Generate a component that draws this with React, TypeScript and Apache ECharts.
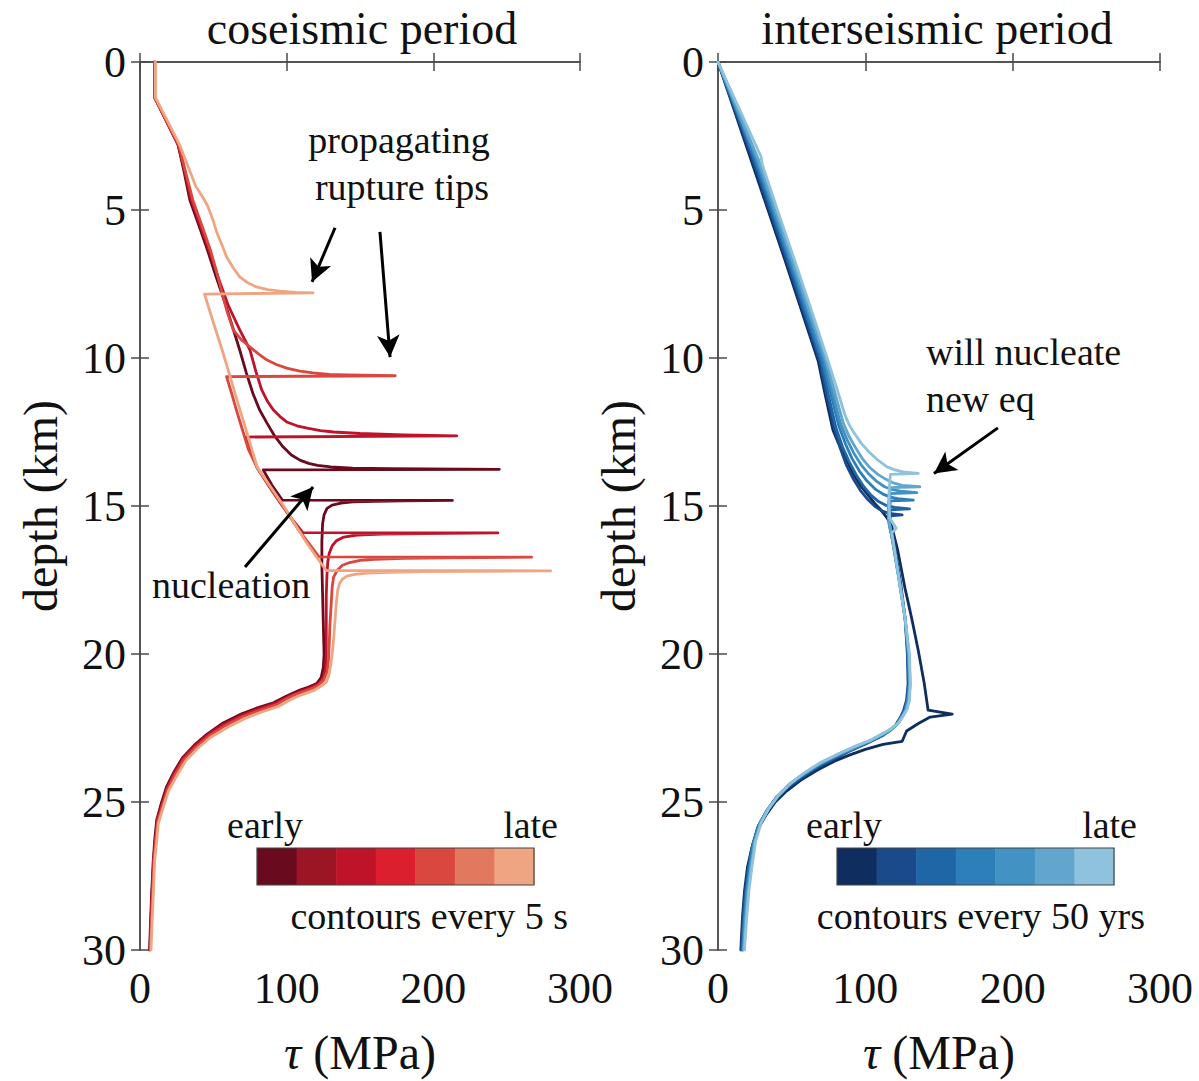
import React, { useEffect, useRef } from "react";
import * as echarts from "echarts";

// Axis ticks
const tauTicks = [0, 100, 200, 300];
const depthTicks = [0, 5, 10, 15, 20, 25, 30];

// Colour scales used for snapshots (early -> late)
const redScale = ["#6a0a1f", "#9c1524", "#be1329", "#dc1f2e", "#d9473f", "#e2785e", "#f0a582"];
const blueScale = ["#0f2d5e", "#1a4a8a", "#1f66a6", "#2c7fb8", "#4293c4", "#62a6cd", "#8fc2dc"];

// Coseismic shear-stress snapshots: [tau (MPa), depth (km)]
const coseismic0 = [
  [10, 0], [10, 1.2], [18, 2.0], [26, 2.8], [30, 3.7], [34, 4.66], [40, 5.5], [46, 6.35], [51.5, 7.2],
  [57, 8.0], [62.5, 8.85], [68, 9.73], [72.5, 10.5], [77, 11.2], [81.5, 11.75], [86.6, 12.2], [92, 12.65],
  [97.5, 13.0], [103, 13.27], [109, 13.45], [115, 13.56], [121, 13.63], [130, 13.68], [145, 13.72],
  [170, 13.74], [245, 13.76], [84, 13.78], [90, 14.3], [97, 14.8], [213, 14.81], [180, 14.83],
  [160, 14.84], [145, 14.86], [137, 14.9], [131, 14.97], [127.5, 15.08], [125.5, 15.3], [124.5, 15.6],
  [124, 16.2], [124, 17], [124.5, 18], [125, 19], [125.5, 20.0], [125, 20.45], [123.5, 20.8],
  [120.5, 21.0], [115, 21.12], [109, 21.22], [100, 21.42], [91, 21.65], [80, 21.82], [68, 22.05],
  [56, 22.35], [46, 22.7], [37, 23.08], [29, 23.5], [23, 24.0], [18, 24.5], [14.5, 25.05],
  [11.4, 25.6], [10, 26.3], [9, 27], [8, 28], [7.2, 29], [6.5, 30],
];
const coseismic2 = [
  [10, 0], [10, 1.2], [18, 2.0], [26, 2.8], [30.5, 3.7], [35, 4.66], [41, 5.5], [47, 6.35], [53.5, 7.3],
  [60, 8.2], [67.5, 9.0], [75, 9.73], [79, 10.45], [83, 11.08], [87, 11.47], [91, 11.76], [95.5, 11.98],
  [100, 12.16], [107, 12.29], [114, 12.37], [123, 12.45], [132, 12.5], [150, 12.55], [180, 12.6],
  [216, 12.63], [72, 12.67], [76, 13.2], [80, 13.72], [87.5, 14.3], [95, 14.85], [103, 15.4],
  [111, 15.9], [244, 15.91], [195, 15.93], [165, 15.95], [148, 15.98], [139, 16.05], [134, 16.17],
  [131, 16.35], [129, 16.6], [128, 16.9], [127.5, 17.3], [127, 18], [127, 19], [127, 20.0],
  [126.5, 20.45], [125, 20.8], [121.5, 21.02], [116, 21.14], [110, 21.25], [101, 21.44], [92, 21.67],
  [81, 21.85], [69, 22.08], [57, 22.38], [46.5, 22.72], [37.5, 23.1], [29.5, 23.52], [23.5, 24.02],
  [18.5, 24.52], [15, 25.07], [11.8, 25.62], [10.4, 26.3], [9.3, 27], [8.3, 28], [7.5, 29], [6.8, 30],
];
const coseismic4 = [
  [10, 0], [10, 1.2], [18.2, 2.0], [26.5, 2.8], [31, 3.7], [36, 4.66], [42, 5.5], [48, 6.35], [52, 7.05],
  [56, 7.8], [59.5, 8.45], [63.6, 9.05], [69, 9.38], [75, 9.63], [81, 9.87], [86.6, 10.07], [93, 10.22],
  [100, 10.34], [109, 10.44], [118, 10.5], [129, 10.55], [141, 10.57], [174, 10.6], [59, 10.63],
  [62.5, 11.2], [66, 11.8], [70, 12.45], [74, 13.1], [80, 13.72], [87, 14.23], [94, 14.75],
  [101, 15.27], [108, 15.8], [115, 16.25], [122, 16.72], [267, 16.73], [210, 16.75], [180, 16.77],
  [160, 16.8], [150, 16.84], [143, 16.91], [138, 17.0], [134.5, 17.17], [132, 17.4], [131, 17.75],
  [130.5, 18.2], [129.5, 19.0], [129, 19.7], [128.5, 20.2], [127.5, 20.6], [125, 20.9], [121, 21.07],
  [117, 21.17], [111.5, 21.27], [106, 21.37], [99.5, 21.52], [93, 21.71], [81.5, 21.9], [70, 22.12],
  [58, 22.42], [47, 22.77], [38, 23.15], [30, 23.57], [24, 24.07], [19, 24.57], [15.5, 25.1],
  [12, 25.67], [10.7, 26.35], [9.5, 27], [8.6, 28], [7.8, 29], [7, 30],
];
const coseismic6 = [
  [10.5, 0], [10.5, 1.2], [18.8, 2.0], [27, 2.8], [32.5, 3.5], [38, 4.2], [42, 4.5], [46, 4.85],
  [49.5, 5.3], [52.5, 5.78], [56, 6.2], [59, 6.58], [63.5, 6.95], [68, 7.26], [73.5, 7.46], [79.5, 7.6],
  [87, 7.69], [95.5, 7.74], [106, 7.78], [118, 7.8], [44, 7.84], [50, 8.8], [56, 9.73], [61, 10.55],
  [66, 11.4], [73, 12.55], [80, 13.7], [89, 14.35], [98, 15.0], [105.5, 15.6], [113, 16.2], [120, 16.7],
  [127, 17.18], [280, 17.19], [230, 17.21], [195, 17.22], [170, 17.24], [155, 17.27], [146.5, 17.31],
  [141, 17.37], [138, 17.47], [136, 17.62], [134.8, 17.85], [134, 18.2], [133.4, 18.55], [133, 18.85],
  [132, 19.5], [131, 20.0], [130, 20.4], [128.8, 20.72], [127, 20.95], [123, 21.1], [119, 21.22],
  [113.5, 21.32], [108, 21.42], [101.5, 21.57], [95, 21.76], [83.5, 21.95], [72, 22.17], [60, 22.47],
  [48, 22.82], [39, 23.2], [31, 23.62], [25, 24.12], [19.5, 24.62], [16, 25.15], [12.5, 25.72],
  [11.2, 26.4], [10, 27], [9.2, 28], [8.3, 29], [7.5, 30],
];

// Interseismic shear-stress snapshots: [tau (MPa), depth (km)]
const interseismic0 = [
  [0, 0], [22.4, 3.3], [45.5, 6.7], [68, 10.1], [73, 11.3], [78, 12.43], [81.5, 12.85], [85, 13.2],
  [88.5, 13.57], [91.6, 13.9], [97, 14.33], [103, 14.7], [106.5, 14.92], [110, 15.1], [114.7, 15.4],
  [118, 15.7], [120, 16.1], [122, 16.5], [124.5, 17.15], [127, 17.8], [129.5, 18.35], [131.7, 18.85],
  [136, 19.9], [140, 21.0], [142.6, 21.9], [159, 22.03], [144, 22.13], [136, 22.35], [128, 22.6],
  [125, 22.95], [112, 23.05], [100, 23.22], [90, 23.4], [79, 23.62], [67.5, 23.92], [56, 24.27],
  [46.5, 24.63], [38.5, 25.02], [32.5, 25.45], [27, 25.92], [23, 26.55], [20, 27.2], [18, 28.0],
  [16.6, 28.9], [15.5, 30],
];
const interseismic1 = [
  [0, 0], [23.5, 3.3], [46.5, 6.7], [69, 10.1], [74, 11.3], [79, 12.4], [83, 13.05], [87, 13.6],
  [92, 14.1], [97, 14.5], [102, 14.8], [107, 15.03], [111.5, 15.17], [116, 15.25], [125, 15.3],
  [117, 15.33], [116.5, 15.55], [117, 15.8], [120, 16.4], [124, 17.6], [127, 18.8], [128.5, 20.0],
  [129, 21.0], [128, 21.55], [126, 21.9], [124, 22.12], [120.5, 22.4], [116, 22.6], [111.5, 22.75],
  [106, 22.9], [100.5, 23.03], [89.5, 23.28], [79, 23.55], [67, 23.85], [56, 24.2], [46.5, 24.55],
  [38.7, 24.95], [32.3, 25.4], [27, 25.85], [23.2, 26.5], [20.6, 27.2], [18.5, 28.0], [17, 28.9],
  [15.9, 30],
];
const interseismic2 = [
  [0, 0], [24.5, 3.3], [47.5, 6.7], [70, 10.1], [75, 11.25], [80, 12.35], [84.5, 13.0], [89, 13.5],
  [94, 13.97], [99, 14.35], [104, 14.64], [109, 14.85], [114.5, 14.99], [120, 15.05], [130, 15.1],
  [117, 15.13], [116.5, 15.5], [117.5, 15.9], [119, 16.3], [123.5, 17.6], [127, 18.8], [129, 20.0],
  [129.5, 21.0], [128.5, 21.55], [126.5, 21.9], [124.5, 22.12], [121, 22.4], [116.5, 22.6], [112, 22.75],
  [106.5, 22.88], [101, 23.0], [90, 23.25], [79.5, 23.5], [67.5, 23.8], [56.5, 24.15], [47, 24.5],
  [39, 24.9], [32.5, 25.35], [27.5, 25.8], [23.5, 26.45], [21, 27.2], [19, 28.0], [17.6, 28.9],
  [16.4, 30],
];
const interseismic3 = [
  [0, 0], [25.5, 3.3], [48.5, 6.7], [71, 10.1], [76.5, 11.2], [82, 12.3], [86.5, 12.9], [91, 13.4],
  [96, 13.82], [101, 14.15], [106.5, 14.42], [112, 14.6], [117, 14.7], [122, 14.75], [132.6, 14.8],
  [117, 14.83], [116, 15.3], [116.5, 15.7], [118.5, 16.1], [123, 17.5], [127, 18.8], [129, 20.0],
  [130, 21.0], [129, 21.55], [127, 21.9], [125, 22.1], [121.5, 22.38], [117, 22.57], [113, 22.7],
  [107.5, 22.84], [102, 22.97], [91, 23.22], [80, 23.45], [68, 23.75], [57, 24.1], [47.5, 24.45],
  [39.5, 24.85], [33, 25.3], [28, 25.75], [24, 26.4], [21.5, 27.2], [19.5, 28.0], [18, 28.9],
  [16.8, 30],
];
const interseismic4 = [
  [0, 0], [26.5, 3.3], [49.5, 6.7], [72.5, 10.1], [78, 11.2], [83, 12.2], [87.5, 12.75], [92, 13.2],
  [97, 13.6], [102, 13.9], [107.5, 14.16], [113, 14.35], [118.5, 14.45], [124, 14.5], [135, 14.55],
  [117, 14.58], [115.5, 15.2], [116, 15.6], [118, 16.0], [123, 17.5], [127, 18.8], [129.5, 20.0],
  [130, 21.0], [129, 21.55], [127.5, 21.88], [125.5, 22.05], [122, 22.35], [118, 22.53], [114, 22.65],
  [108.5, 22.8], [103, 22.93], [91.5, 23.18], [80.5, 23.42], [68.5, 23.72], [57.5, 24.07], [48, 24.42],
  [40, 24.82], [33.5, 25.27], [28.5, 25.72], [24.5, 26.38], [22, 27.2], [20, 28.0], [18.5, 28.9],
  [17.2, 30],
];
const interseismic5 = [
  [0, 0], [27.5, 3.3], [50.5, 6.7], [73.5, 10.1], [79.5, 11.2], [85, 12.2], [89, 12.65], [93, 13.0],
  [98, 13.4], [103, 13.7], [108.5, 13.93], [114, 14.1], [119.5, 14.23], [125, 14.3], [137, 14.35],
  [117, 14.38], [115.5, 15.0], [116, 15.5], [117.5, 15.9], [122.5, 17.4], [127, 18.8], [129.5, 20.0],
  [130.5, 21.0], [129.5, 21.55], [128, 21.87], [126, 22.05], [122.5, 22.33], [118.5, 22.5],
  [114.5, 22.62], [109, 22.77], [103.5, 22.92], [92, 23.15], [81, 23.4], [69, 23.7], [58, 24.05],
  [48.5, 24.4], [40.5, 24.8], [34, 25.25], [29, 25.7], [25, 26.35], [22.5, 27.2], [20.5, 28.0],
  [19, 28.9], [17.6, 30],
];
const interseismic6 = [
  [0, 0], [29.2, 3.2], [30, 3.45], [41, 5.1], [52, 6.7], [63.5, 8.4], [74.7, 10.1], [80.5, 11.0],
  [86, 11.9], [89, 12.25], [92, 12.5], [97.5, 12.9], [103, 13.2], [109, 13.47], [114.7, 13.68],
  [120, 13.78], [125.6, 13.85], [136, 13.9], [117, 13.93], [116, 14.6], [116.5, 15.4], [121, 15.75],
  [118, 15.9], [120.5, 16.7], [123, 17.5], [127, 18.8], [130, 20.0], [130.5, 21.0], [130, 21.55],
  [128.5, 21.85], [126.5, 22.03], [123, 22.3], [119, 22.47], [115, 22.6], [109.5, 22.75], [104, 22.9],
  [92.5, 23.13], [81.5, 23.38], [69.5, 23.67], [58.5, 24.02], [49, 24.38], [41, 24.78], [34.5, 25.22],
  [29.5, 25.68], [25.5, 26.33], [23, 27.2], [21, 28.0], [19.5, 28.9], [18, 30],
];

const coseismicSnapshots = [
  { shade: 0, data: coseismic0 },
  { shade: 2, data: coseismic2 },
  { shade: 4, data: coseismic4 },
  { shade: 6, data: coseismic6 },
];
const interseismicSnapshots = [
  interseismic0, interseismic1, interseismic2, interseismic3, interseismic4, interseismic5, interseismic6,
];

// Annotation arrows in data units: [from, to]
const coseismicArrows = [
  [[133, 5.6], [117.3, 7.43]],
  [[163.6, 5.74], [170.5, 9.97]],
  [[71.6, 17.06], [118, 14.36]],
];
const interseismicArrows = [[[190, 12.36], [146.6, 13.9]]];

const FONT = "'Liberation Serif', 'Times New Roman', Times, serif";
const AXIS_COLOR = "#4a4a4a";
const TEXT_COLOR = "#111";

const PANEL_TOP = 62;
const PANEL_H = 888;
const panels = [
  { left: 140, width: 440 },
  { left: 718, width: 442 },
];

function App() {
  const ref = useRef<HTMLDivElement>(null);

  useEffect(() => {
    if (!ref.current) return;
    const chart = echarts.init(ref.current, undefined, { renderer: "svg" });

    const grids = panels.map((p) => ({ left: p.left, top: PANEL_TOP, width: p.width, height: PANEL_H }));

    const xAxes: any[] = [];
    const yAxes: any[] = [];
    panels.forEach((_, i) => {
      const common = {
        type: "value",
        gridIndex: i,
        min: tauTicks[0],
        max: tauTicks[tauTicks.length - 1],
        interval: 100,
        splitLine: { show: false },
        axisLine: { show: true, lineStyle: { color: AXIS_COLOR, width: 1.5 } },
        axisTick: { show: true, inside: true, length: 9, lineStyle: { color: AXIS_COLOR, width: 1.5 } },
      };
      xAxes.push({
        ...common,
        position: "bottom",
        axisLabel: { fontSize: 44, fontFamily: FONT, color: TEXT_COLOR, margin: 16 },
        name: "{i|τ} (MPa)",
        nameLocation: "middle",
        nameGap: 78,
        nameTextStyle: {
          fontSize: 48,
          fontFamily: FONT,
          color: TEXT_COLOR,
          rich: { i: { fontStyle: "italic", fontSize: 48, fontFamily: FONT, color: TEXT_COLOR } },
        },
      });
      xAxes.push({ ...common, position: "top", axisLabel: { show: false } });

      const ycommon = {
        type: "value",
        gridIndex: i,
        inverse: true,
        min: depthTicks[0],
        max: depthTicks[depthTicks.length - 1],
        interval: 5,
        splitLine: { show: false },
        axisLine: { show: true, lineStyle: { color: AXIS_COLOR, width: 1.5 } },
        axisTick: { show: true, inside: true, length: 9, lineStyle: { color: AXIS_COLOR, width: 1.5 } },
      };
      yAxes.push({
        ...ycommon,
        position: "left",
        axisLabel: { fontSize: 44, fontFamily: FONT, color: TEXT_COLOR, margin: 14 },
        name: "depth (km)",
        nameLocation: "middle",
        nameGap: 76,
        nameTextStyle: { fontSize: 48, fontFamily: FONT, color: TEXT_COLOR },
      });
      yAxes.push({ ...ycommon, position: "right", axisLabel: { show: false } });
    });

    const series: any[] = [];
    coseismicSnapshots.forEach((s) => {
      series.push({
        type: "line",
        xAxisIndex: 0,
        yAxisIndex: 0,
        data: s.data,
        showSymbol: false,
        symbol: "none",
        lineStyle: { color: redScale[s.shade], width: 2.8, join: "round", cap: "round" },
        silent: true,
      });
    });
    interseismicSnapshots.forEach((d, k) => {
      series.push({
        type: "line",
        xAxisIndex: 2,
        yAxisIndex: 2,
        data: d,
        showSymbol: false,
        symbol: "none",
        lineStyle: { color: blueScale[k], width: 2.8, join: "round", cap: "round" },
        silent: true,
      });
    });

    const arrowSeries = (arrows: number[][][], xi: number, yi: number) => ({
      type: "line",
      xAxisIndex: xi,
      yAxisIndex: yi,
      data: [],
      silent: true,
      markLine: {
        silent: true,
        symbol: ["none", "arrow"],
        symbolSize: [17, 22],
        label: { show: false },
        lineStyle: { color: "#000", width: 3, type: "solid" },
        emphasis: { disabled: true },
        data: arrows.map((a) => [{ coord: a[0] }, { coord: a[1] }]),
      },
    });
    series.push(arrowSeries(coseismicArrows, 0, 0));
    series.push(arrowSeries(interseismicArrows, 2, 2));

    const text = (x: number, y: number, t: string, align = "left", size = 38) => ({
      type: "text",
      x,
      y,
      style: { text: t, fontSize: size, fontFamily: FONT, fill: TEXT_COLOR, textAlign: align, textVerticalAlign: "middle" },
    });

    const colorbar = (x0: number, colors: string[]) => {
      const w = 277;
      const h = 37;
      const y0 = 848;
      const cell = w / colors.length;
      const els: any[] = colors.map((c, i) => ({
        type: "rect",
        shape: { x: x0 + i * cell, y: y0, width: cell + 0.5, height: h },
        style: { fill: c },
      }));
      els.push({
        type: "rect",
        shape: { x: x0, y: y0, width: w, height: h },
        style: { fill: "none", stroke: "#444", lineWidth: 1.2 },
      });
      return els;
    };

    const graphic: any[] = [
      text(362, 28, "coseismic period", "center", 46),
      text(937, 28, "interseismic period", "center", 46),
      text(399, 140, "propagating", "center"),
      text(402, 187, "rupture tips", "center"),
      text(152, 585, "nucleation"),
      text(926, 352, "will nucleate"),
      text(926, 399, "new eq"),
      text(265, 825, "early", "center"),
      text(558, 825, "late", "right"),
      text(568, 916, "contours every 5 s", "right"),
      text(844, 825, "early", "center"),
      text(1137, 825, "late", "right"),
      text(1145, 916, "contours every 50 yrs", "right"),
      ...colorbar(257, redScale),
      ...colorbar(837, blueScale),
    ];

    chart.setOption({
      animation: false,
      backgroundColor: "#ffffff",
      grid: grids,
      xAxis: xAxes,
      yAxis: yAxes,
      series,
      graphic,
    });

    return () => chart.dispose();
  }, []);

  return <div ref={ref} style={{ width: 1199, height: 1081, position: "absolute", left: 0, top: 0 }} />;
}

export default App;
